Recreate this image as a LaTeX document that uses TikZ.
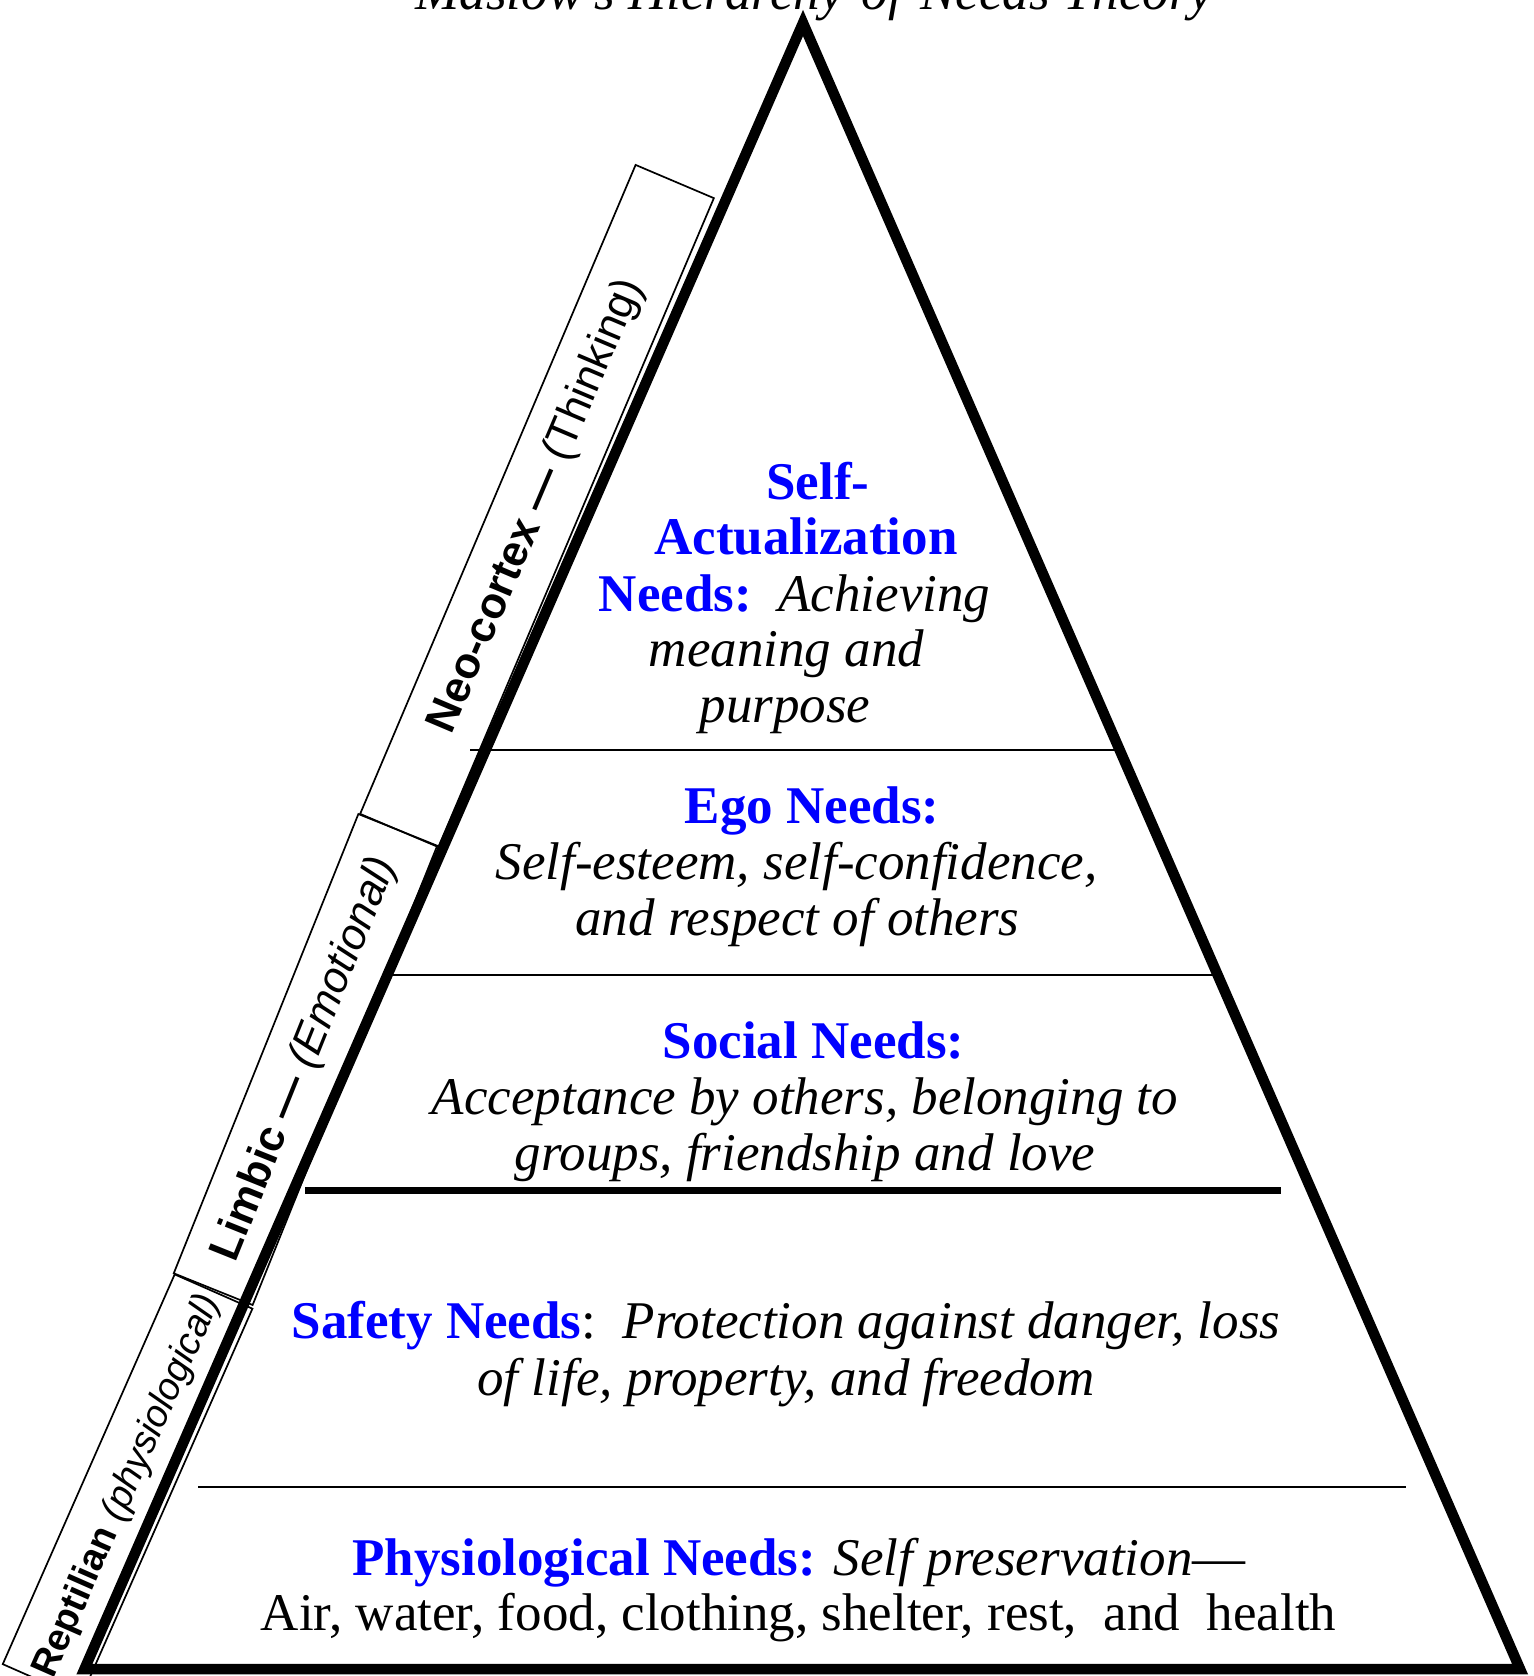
\documentclass[tikz,border=0pt]{standalone}
\usepackage{fontspec}
\setmainfont{Liberation Serif}
\newfontfamily\lsans{Liberation Sans}
\definecolor{needblue}{RGB}{0,0,255}
\newcommand\needhead[1]{\textcolor{needblue}{\bfseries #1}}
\begin{document}
\begin{tikzpicture}[x=1pt,y=-1pt,
  divider/.style={line width=2.5pt},
  txt/.style={inner sep=0pt, anchor=base, font=\fontsize{53}{56}\selectfont},
  itxt/.style={txt, font=\fontsize{53}{56}\selectfont\itshape},
  brainbox/.style={draw, line width=1.7pt, inner sep=0pt, minimum height=85pt,
    font=\lsans\fontsize{43.5}{46}\selectfont}
]
\useasboundingbox (0,0) rectangle (1534,1676);

% brain boxes
\node[brainbox, minimum width=705pt, rotate=67] (neo) at (537,506)
  {{\bfseries Neo-cortex —} (Thinking)};
\node[brainbox, minimum width=495pt, rotate=68.1] (limbic) at (305.5,1059.5)
  {{\bfseries Limbic —} {\itshape (Emotional)}};
\node[brainbox, minimum width=426pt, rotate=66.2,
  font=\lsans\fontsize{38}{40}\selectfont] (rept) at (127.6,1486.4)
  {{\bfseries Reptilian} {\itshape (physiological)}};

% dividers
\draw[divider] (470,750) -- (1119,750);
\draw[divider] (390,975) -- (1216,975);
\draw[line width=7pt] (305,1190) -- (1281,1190);
\draw[divider] (198,1487) -- (1406,1487);

% pyramid
\coordinate (apex) at (803,23);
\coordinate (bl) at (84.5,1669);
\coordinate (br) at (1520,1669);
\draw[line width=10.5pt, line join=miter, miter limit=10] (apex) -- (bl) -- (br) -- cycle;

% title
\node[itxt] (title) at (814.5,9) {Maslow's Hierarchy-of-Needs Theory};

% self-actualization
\node[txt] (sa1) at (818,499) {\needhead{Self-}};
\node[txt] (sa2) at (806,554) {\needhead{Actualization}};
\node[txt] (sa3) at (794.5,611) {\needhead{Needs:}\ \ \textit{Achieving}};
\node[itxt] (sa4) at (786.5,666) {meaning and};
\node[itxt] (sa5) at (785,722) {purpose};

% ego
\node[txt] (eg1) at (812,823) {\needhead{Ego Needs:}};
\node[itxt] (eg2) at (796.5,879) {Self-esteem, self-confidence,};
\node[itxt] (eg3) at (797.5,935) {and respect of others};

% social
\node[txt] (so1) at (813.5,1058) {\needhead{Social Needs:}};
\node[itxt] (so2) at (805,1114) {Acceptance by others, belonging to};
\node[itxt] (so3) at (805,1170.5) {groups, friendship and love};

% safety
\node[txt] (sf1) at (786,1338) {\needhead{Safety Needs}:\ \ \textit{Protection against danger, loss}};
\node[itxt] (sf2) at (786,1395) {of life, property, and freedom};

% physiological
\node[txt] (ph1) at (799,1575) {\needhead{Physiological Needs:} \textit{Self preservation}—};
\node[txt] (ph2) at (798.5,1630) {Air, water, food, clothing, shelter, rest,\ \ and\ \ health};
\end{tikzpicture}
\end{document}
